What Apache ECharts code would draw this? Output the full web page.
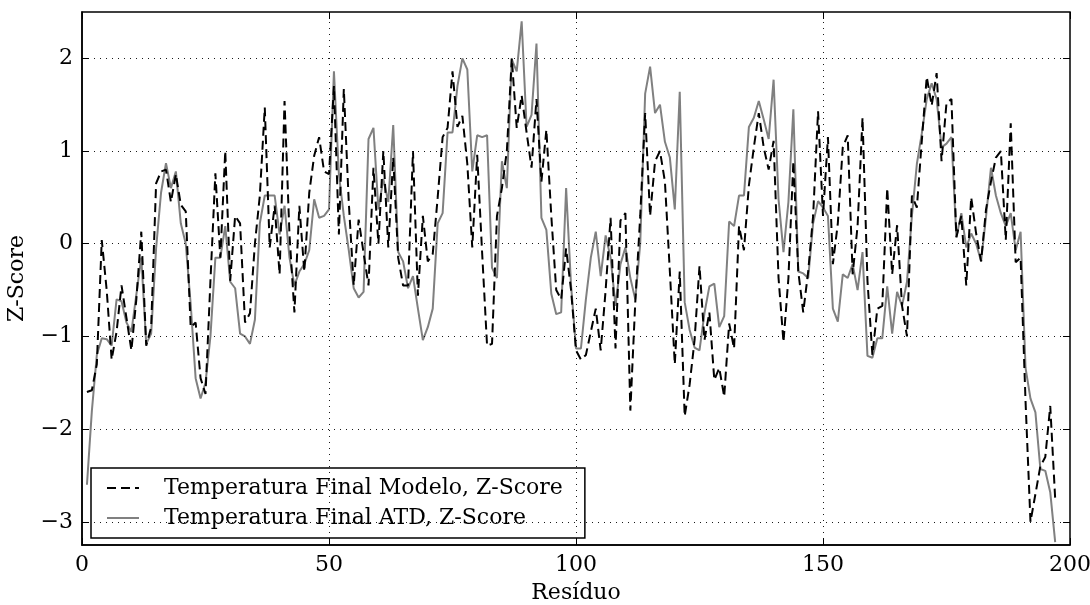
<!DOCTYPE html>
<html>
<head>
<meta charset="utf-8">
<script src="https://cdn.jsdelivr.net/npm/echarts@6/dist/echarts.min.js"></script>
<style>
  html, body { margin: 0; padding: 0; background: #fff; }
  #chart { width: 1090px; height: 605px; }
</style>
</head>
<body>
<div id="chart"></div>
<script>
// Z-Score per residue (residues 1..197)
const modelo = [
  -1.6, -1.58, -1.3, 0.04, -0.5, -1.25, -0.95, -0.45, -0.8, -1.15,
  -0.6, 0.13, -1.1, -0.9, 0.65, 0.78, 0.8, 0.45, 0.75, 0.42,
  0.35, -0.9, -0.85, -1.45, -1.62, -0.4, 0.76, -0.15, 1.0, -0.4,
  0.3, 0.22, -0.85, -0.75, 0.0, 0.52, 1.47, -0.04, 0.41, -0.33,
  1.54, 0.1, -0.74, 0.41, -0.3, 0.55, 0.95, 1.15, 0.78, 0.75,
  1.7, 0.1, 1.67, 0.45, -0.45, 0.26, -0.1, -0.45, 0.82, 0.0,
  1.0, -0.04, 0.93, -0.15, -0.45, -0.45, 1.0, -0.56, 0.3, -0.19,
  -0.11, 0.5, 1.15, 1.25, 1.86, 1.26, 1.38, 0.86, -0.04, 0.96,
  -0.1, -1.1, -1.08, 0.3, 0.6, 1.0, 2.0, 1.25, 1.6, 1.2,
  0.82, 1.56, 0.67, 1.23, 0.3, -0.5, -0.6, -0.05, -0.5, -1.15,
  -1.25, -1.2, -0.95, -0.7, -1.15, -0.5, 0.28, -1.13, 0.25, 0.33,
  -1.8, -0.63, 0.3, 1.41, 0.3, 0.89, 1.0, 0.67, -0.3, -1.3,
  -0.3, -1.86, -1.52, -1.04, -0.24, -1.04, -0.74, -1.47, -1.34, -1.65,
  -0.86, -1.13, 0.19, -0.07, 0.63, 1.04, 1.41, 1.04, 0.8, 1.11,
  -0.37, -1.06, -0.37, 0.89, -0.3, -0.74, -0.3, 0.3, 1.43, 0.3,
  1.15, -0.22, 0.22, 1.04, 1.17, -0.33, 0.19, 1.36, -0.4, -1.2,
  -0.7, -0.67, 0.6, -0.33, 0.2, -0.67, -1.0, 0.52, 0.39, 1.11,
  1.8, 1.49, 1.84, 0.89, 1.52, 1.56, 0.07, 0.3, -0.45, 0.5,
  0.11, -0.19, 0.37, 0.67, 0.93, 1.0, 0.04, 1.3, -0.2, -0.15,
  -1.7, -3.0, -2.7, -2.4, -2.3, -1.75, -2.75
];
const atd = [
  -2.6, -1.8, -1.2, -1.02, -1.03, -1.1, -0.6, -0.62, -0.85, -0.95,
  -0.55, -0.15, -1.08, -0.97, -0.05, 0.55, 0.87, 0.6, 0.78, 0.22,
  0.0, -0.65, -1.45, -1.67, -1.5, -1.0, -0.15, -0.15, 0.19, -0.41,
  -0.48, -0.97, -1.0, -1.08, -0.82, 0.22, 0.52, 0.52, 0.52, 0.1,
  0.41, -0.15, -0.45, -0.3, -0.22, -0.07, 0.48, 0.28, 0.3, 0.37,
  1.86, 0.75, 0.3, -0.07, -0.48, -0.58, -0.52, 1.13, 1.25, 0.37,
  0.7, 0.45, 1.28, -0.09, -0.19, -0.48, -0.35, -0.7, -1.04, -0.9,
  -0.7, 0.22, 0.33, 1.2, 1.2, 1.7, 2.0, 1.88, 0.78, 1.17,
  1.15, 1.17, -0.26, -0.37, 0.89, 0.6, 1.99, 1.86, 2.4, 1.26,
  1.39, 2.16, 0.28, 0.15, -0.54, -0.76, -0.74, 0.6, -0.45, -1.13,
  -1.13, -0.6, -0.15, 0.13, -0.35, 0.09, -0.15, -0.67, -0.22, -0.04,
  -0.37, -0.6, 0.0, 1.62, 1.91, 1.41, 1.5, 1.1, 0.93, 0.37,
  1.64, -0.63, -0.93, -1.12, -1.15, -0.75, -0.46, -0.43, -0.9, -0.78,
  0.24, 0.19, 0.52, 0.52, 1.26, 1.36, 1.54, 1.34, 1.13, 1.77,
  0.48, -0.09, 0.45, 1.45, -0.3, -0.32, -0.37, 0.22, 0.46, 0.39,
  0.3, -0.7, -0.84, -0.33, -0.37, -0.22, -0.5, -0.09, -1.21, -1.23,
  -1.02, -1.02, -0.46, -0.97, -0.52, -0.67, -0.41, 0.3, 0.86, 1.19,
  1.56, 1.73, 1.56, 1.04, 1.08, 1.15, 0.07, 0.33, -0.04, 0.11,
  0.0, -0.19, 0.29, 0.82, 0.52, 0.33, 0.19, 0.33, -0.07, 0.13,
  -1.34, -1.67, -1.82, -2.43, -2.45, -2.68, -3.22
];
const xTicks = [0, 50, 100, 150, 200];
const yTicks = [-3, -2, -1, 0, 1, 2];

const font = 'DejaVu Serif';
const fs = 22;
const fmt = v => String(v).replace('-', '\u2212');

const chart = echarts.init(document.getElementById('chart'));

const gridLines = [];
yTicks.forEach(v => gridLines.push({ yAxis: v }));
xTicks.slice(1, -1).forEach(v => gridLines.push({ xAxis: v }));

chart.setOption({
  animation: false,
  textStyle: { fontFamily: font, color: '#000' },
  grid: {
    left: 82, right: 20, top: 12, bottom: 60,
    outerBoundsMode: 'none',
    show: true, borderColor: '#000', borderWidth: 1.5, backgroundColor: 'transparent'
  },
  legend: {
    left: 91, bottom: 67,
    orient: 'vertical',
    backgroundColor: '#fff',
    borderColor: '#000', borderWidth: 1.5, borderRadius: 0,
    padding: [9, 22, 9, 15],
    itemGap: 8,
    itemWidth: 32, itemHeight: 14,
    itemStyle: { opacity: 0 },
    textStyle: { fontFamily: font, fontSize: fs, color: '#000', padding: [0, 0, 0, 20] },
    data: ['Temperatura Final Modelo, Z-Score', 'Temperatura Final ATD, Z-Score']
  },
  xAxis: [{
    type: 'value', min: 0, max: 200, interval: 50,
    name: 'Resíduo', nameLocation: 'middle', nameGap: 37,
    nameTextStyle: { fontFamily: font, fontSize: fs, color: '#000' },
    axisLine: { show: true, onZero: false, lineStyle: { color: '#000', width: 1.5 } },
    axisTick: { inside: true, length: 7, lineStyle: { color: '#000' } },
    axisLabel: { fontFamily: font, fontSize: fs, color: '#000', margin: 9 },
    splitLine: { show: false }
  }, {
    type: 'value', min: 0, max: 200, interval: 50, position: 'top',
    axisLine: { show: false, onZero: false },
    axisTick: { inside: true, length: 7, lineStyle: { color: '#000' } },
    axisLabel: { show: false },
    splitLine: { show: false }
  }],
  yAxis: [{
    type: 'value', min: -3.25, max: 2.5,
    name: 'Z-Score', nameLocation: 'middle', nameGap: 54,
    nameTextStyle: { fontFamily: font, fontSize: fs, color: '#000' },
    axisLine: { show: true, onZero: false, lineStyle: { color: '#000', width: 1.5 } },
    axisTick: { show: true, inside: true, length: 7, customValues: yTicks, lineStyle: { color: '#000' } },
    axisLabel: { fontFamily: font, fontSize: fs, color: '#000', margin: 9, customValues: yTicks, formatter: fmt },
    splitLine: { show: false }
  }, {
    type: 'value', min: -3.25, max: 2.5, position: 'right',
    axisLine: { show: false, onZero: false },
    axisTick: { show: true, inside: true, length: 7, customValues: yTicks, lineStyle: { color: '#000' } },
    axisLabel: { show: false, customValues: yTicks },
    splitLine: { show: false }
  }],
  series: [{
    name: 'Temperatura Final ATD, Z-Score',
    type: 'line', symbol: 'none', z: 2,
    data: atd.map((v, i) => [i + 1, v]),
    lineStyle: { color: '#808080', width: 2 },
    itemStyle: { color: '#808080' },
    markLine: {
      silent: true, symbol: 'none', label: { show: false },
      lineStyle: { color: '#000', width: 1, type: [1, 5], opacity: 0.9 },
      data: gridLines
    }
  }, {
    name: 'Temperatura Final Modelo, Z-Score',
    type: 'line', symbol: 'none', z: 3,
    data: modelo.map((v, i) => [i + 1, v]),
    lineStyle: { color: '#000', width: 2, type: [9, 5] },
    itemStyle: { color: '#000' }
  }]
});
</script>
</body>
</html>
